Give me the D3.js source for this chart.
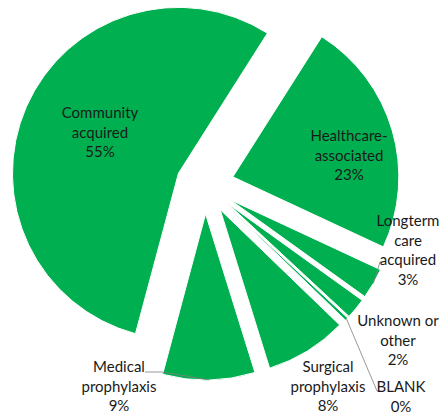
<!DOCTYPE html>
<html lang="en">
<head>
  <meta charset="UTF-8">
  <title>Pie</title>
  <style>
    html, body { margin: 0; padding: 0; background: #fff; }
    text { font-family: Lato, "Noto Sans", sans-serif; font-size: 15px; fill: #1a1a1a; }
  </style>
</head>
<body>

  <svg id="svg" width="440" height="420"></svg>

  <script src="https://cdn.jsdelivr.net/npm/d3@7"></script>
  <script>
    // slices, clockwise
    const categories = ['Community acquired', 'Healthcare-associated', 'Longterm care acquired',
      'Unknown or other', 'BLANK', 'Surgical prophylaxis', 'Medical prophylaxis'];
    const shares = [55, 23, 3, 2, 0.3, 8, 9];
    const pctLabels = ['55%', '23%', '3%', '2%', '0%', '8%', '9%'];
    const nameLines = [['Community', 'acquired'], ['Healthcare-', 'associated'], ['Longterm', 'care', 'acquired'],
      ['Unknown or', 'other'], ['BLANK'], ['Surgical', 'prophylaxis'], ['Medical', 'prophylaxis']];

    // label layout (center x, first line y) and leader starts
    const labelPos = [[100, 113], [349, 136], [408, 221], [398, 321], [401, 387], [328, 367], [119, 367]];
    const leaders = { 2: [[384, 262], [380, 262]], 4: [[380, 391], [377, 391]], 6: [[145, 372], [162, 372]] };

    const cx = 205, cy = 185, R = 166, explode = 29, lineH = 19.5;
    const green = '#00b050';

    const svg = d3.select('#svg');
    const data = categories.map((c, i) => ({ name: c, value: shares[i], i }));

    const start = 195 * Math.PI / 180;
    const pie = d3.pie().sort(null).value(d => d.value)
      .startAngle(start).endAngle(start + 2 * Math.PI);
    const arcs = pie(data);
    const arc = d3.arc().innerRadius(0).outerRadius(R);
    const edge = d3.arc().innerRadius(R + explode).outerRadius(R + explode);

    const g = svg.append('g').attr('transform', `translate(${cx},${cy})`);

    g.selectAll('path.slice')
      .data(arcs)
      .enter()
      .append('path')
      .attr('class', 'slice')
      .attr('d', arc)
      .attr('fill', green)
      .attr('stroke', '#fff')
      .attr('stroke-width', 1)
      .attr('transform', d => {
        const m = (d.startAngle + d.endAngle) / 2;
        return `translate(${explode * Math.sin(m)},${-explode * Math.cos(m)})`;
      });

    // leader lines
    Object.keys(leaders).forEach(k => {
      const a = arcs[+k];
      const m = (a.startAngle + a.endAngle) / 2;
      const end = [cx + (R + explode) * Math.sin(m), cy - (R + explode) * Math.cos(m)];
      svg.append('path')
        .attr('d', d3.line()(leaders[k].concat([end])))
        .attr('fill', 'none')
        .attr('stroke', '#7f7f7f')
        .attr('stroke-width', 0.8);
    });

    // labels
    arcs.forEach((a, i) => {
      const lines = nameLines[i].concat([pctLabels[i]]);
      const t = svg.append('text')
        .attr('text-anchor', 'middle')
        .attr('x', labelPos[i][0])
        .attr('y', labelPos[i][1]);
      lines.forEach((l, j) => {
        t.append('tspan')
          .attr('x', labelPos[i][0])
          .attr('y', labelPos[i][1] + j * lineH)
          .attr('dy', '0.35em')
          .text(l);
      });
    });
  </script>
</body>
</html>
